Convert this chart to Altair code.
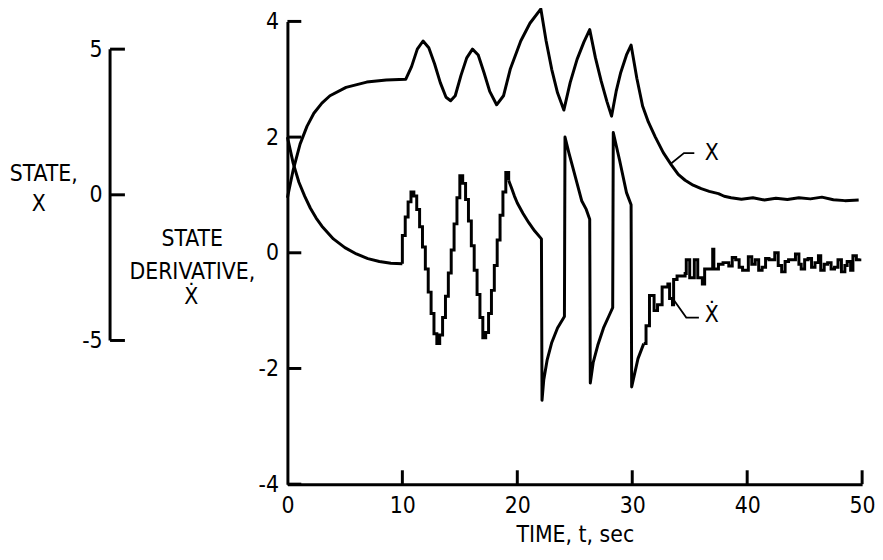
import altair as alt
import pandas as pd

FONT = "Liberation Sans Narrow, DejaVu Sans Condensed, sans-serif"
FS = 23

# ---------------- data ----------------
# State X (left axis units)
x_time = [0, 0.5, 1.1, 1.7, 2.3, 3.0, 3.7, 5.1, 6.9, 8.6, 10.3, 10.8, 11.3, 11.8, 12.3, 12.8,
          13.3, 13.8, 14.2, 14.6, 15.1, 15.6, 16.1, 16.6, 17.1, 17.6, 18.2, 18.8, 19.4, 20.3,
          21.1, 22.05, 22.5, 23.0, 23.5, 24.05, 24.6, 25.2, 25.8, 26.3, 26.8, 27.3, 27.8, 28.2,
          28.6, 29.0, 29.5, 29.9, 30.4, 30.9, 31.4, 32.0, 32.7, 33.4, 34.0, 34.6, 35.3, 36.0,
          36.7, 37.5, 38.0, 38.6, 39.5, 40.5, 41.5, 42.5, 43.5, 44.5, 45.5, 46.5, 47.5, 48.5, 49.7]
x_state = [-0.1, 0.85, 1.74, 2.35, 2.8, 3.15, 3.4, 3.69, 3.87, 3.94, 3.97, 4.4, 5.0, 5.28, 5.05, 4.5,
           3.85, 3.35, 3.23, 3.4, 4.1, 4.7, 5.0, 4.8, 4.2, 3.55, 3.09, 3.4, 4.33, 5.28,
           5.89, 6.38, 5.3, 4.3, 3.5, 2.91, 3.85, 4.65, 5.25, 5.67, 4.7, 3.9, 3.2, 2.7,
           3.55, 4.2, 4.8, 5.14, 4.0, 3.05, 2.5, 1.99, 1.45, 1.03, 0.7, 0.5, 0.33, 0.21,
           0.12, 0.04, -0.05, -0.1, -0.15, -0.1, -0.18, -0.12, -0.16, -0.1, -0.14, -0.08, -0.17, -0.2, -0.18]

# State derivative X-dot (main axis units): smooth parts
xd_decay_t = [0, 0.5, 1, 1.5, 2, 2.5, 3, 4, 5, 6, 7, 8, 9, 10.0]
xd_decay_v = [2.0, 1.55, 1.22, 0.98, 0.77, 0.6, 0.46, 0.24, 0.09, -0.02, -0.1, -0.15, -0.18, -0.19]

# sampled (staircase) oscillation
xd_stair_t = [10.0, 10.0, 10.25, 10.5, 10.75, 11.0, 11.25, 11.5, 11.75, 12.0, 12.25, 12.5, 12.75,
              13.0, 13.25, 13.5, 13.75, 14.0, 14.25, 14.5, 14.75, 15.0, 15.25, 15.5, 15.75,
              16.0, 16.25, 16.5, 16.75, 17.0, 17.25, 17.5, 17.75, 18.0, 18.25, 18.5, 18.75,
              19.0, 19.25]
xd_stair_v = [-0.19, 0.30, 0.62, 0.88, 1.05, 0.98, 0.75, 0.45, 0.10, -0.28, -0.68, -1.05, -1.40,
              -1.57, -1.42, -1.12, -0.75, -0.35, 0.05, 0.50, 0.95, 1.33, 1.20, 0.92, 0.55,
              0.12, -0.30, -0.72, -1.12, -1.47, -1.38, -1.05, -0.65, -0.22, 0.22, 0.65, 1.05,
              1.39, 1.25]

# switching section (vertical jumps)
xd_jump_t = [19.25, 19.5, 19.75, 20.0, 20.5, 21.0, 21.5, 22.1, 22.15, 22.3, 22.6, 23.0, 23.5,
             24.1, 24.15, 24.5, 24.8, 25.2, 25.6, 26.0, 26.3, 26.35, 26.6, 27.0, 27.5, 28.0,
             28.3, 28.35, 28.9, 29.5, 29.9, 29.95, 30.5, 31.0]
xd_jump_v = [1.25, 1.12, 0.98, 0.86, 0.68, 0.52, 0.38, 0.24, -2.55, -2.2, -1.85, -1.55, -1.3,
             -1.1, 2.0, 1.72, 1.5, 1.2, 0.9, 0.75, 0.58, -2.25, -1.9, -1.6, -1.3, -1.08,
             -0.95, 2.08, 1.6, 1.04, 0.83, -2.32, -1.83, -1.57]

# noisy settling
xd_noise_t = [31.0, 31.2, 31.5, 31.9, 32.2, 32.6, 33.1, 33.25, 33.5, 33.6, 33.9, 34.6, 34.7, 35.0,
              35.4, 35.7, 36.1, 36.3, 37.0, 37.1, 37.5, 37.9, 38.4, 38.7, 39.0, 39.3, 39.6, 40.1,
              40.4, 40.7, 41.0, 41.3, 41.6, 41.9, 42.4, 42.7, 43.0, 43.3, 43.6, 44.2, 44.5, 44.7,
              45.0, 45.3, 45.6, 45.9, 46.2, 46.4, 46.7, 47.0, 47.3, 47.6, 47.9, 48.2, 48.5, 48.7,
              49.0, 49.2, 49.5, 49.8]
xd_noise_v = [-1.57, -1.26, -0.74, -1.0, -0.9, -0.59, -0.54, -0.79, -0.9, -0.46, -0.4, -0.36, -0.12, -0.43,
              -0.12, -0.43, -0.54, -0.28, 0.06, -0.28, -0.2, -0.17, -0.23, -0.08, -0.12, -0.25, -0.3, -0.07,
              -0.2, -0.12, -0.3, -0.25, -0.1, -0.12, 0.0, -0.22, -0.33, -0.15, -0.12, -0.02, -0.2, -0.28,
              -0.12, -0.1, -0.25, -0.17, -0.05, -0.3, -0.2, -0.17, -0.28, -0.25, -0.12, -0.33, -0.22, -0.15,
              -0.3, -0.05, -0.12, -0.1]

time_ticks = [0, 10, 20, 30, 40, 50]
xdot_ticks = [-4, -2, 0, 2, 4]
state_ticks = [-5, 0, 5]

# leader lines for curve labels (data units)
x_leader_t = [33.3, 34.5, 35.4]
x_leader_s = [1.05, 1.43, 1.43]
xd_leader_t = [33.6, 34.7, 35.8]
xd_leader_v = [-0.81, -1.12, -1.12]

# ---------------- layout constants ----------------
W, H = 580, 467
LW = 3
XS = alt.Scale(domain=[0, 50], nice=False, zero=False)
YD = alt.Scale(domain=[-4, 4], nice=False, zero=False)
YS = alt.Scale(domain=[-9.932, 5.952], nice=False, zero=False)

x_axis = alt.Axis(values=time_ticks, ticks=False, tickSize=0, grid=False, domainColor="black",
                  domainWidth=LW, labelFont=FONT, labelFontSize=FS, labelColor="black",
                  labelPadding=11, labelFlush=False, labelExpr="datum.value",
                  title="TIME, t, sec", titleFont=FONT,
                  titleFontSize=FS, titleFontWeight="normal", titleColor="black", titlePadding=6)
yd_axis = alt.Axis(values=xdot_ticks, orient="left", ticks=False, tickSize=0, grid=False,
                   domainColor="black", domainWidth=LW, labelFont=FONT, labelFontSize=FS,
                   labelColor="black", labelPadding=9, labelFlush=False, labelExpr="datum.value",
                   title=None)
ys_axis = alt.Axis(values=state_ticks, orient="left", offset=179, domain=False, ticks=False,
                   tickSize=0, grid=False, labelFont=FONT, labelFontSize=FS, labelColor="black",
                   labelPadding=8, labelFlush=False, labelExpr="datum.value", title=None)


def X(field="t"):
    return alt.X(f"{field}:Q", scale=XS, axis=x_axis)


def YDot(field="v"):
    return alt.Y(f"{field}:Q", scale=YD, axis=yd_axis)


def YState(field="s"):
    return alt.Y(f"{field}:Q", scale=YS, axis=ys_axis)


# ---------------- derivative (main) group ----------------
smooth_rows = []
for i, (t, v) in enumerate(zip(xd_decay_t, xd_decay_v)):
    smooth_rows.append({"t": t, "v": v, "seg": "a", "i": i})
for i, (t, v) in enumerate(zip(xd_jump_t, xd_jump_v)):
    smooth_rows.append({"t": t, "v": v, "seg": "b", "i": i})
step_rows = []
for i, (t, v) in enumerate(zip(xd_stair_t, xd_stair_v)):
    step_rows.append({"t": t, "v": v, "seg": "s", "i": i})
for i, (t, v) in enumerate(zip(xd_noise_t, xd_noise_v)):
    step_rows.append({"t": t, "v": v, "seg": "n", "i": i})

xd_smooth = alt.Chart(pd.DataFrame(smooth_rows)).mark_line(
    color="black", strokeWidth=LW, strokeJoin="round").encode(
    x=X(), y=YDot(), detail="seg:N", order="i:Q")

xd_step = alt.Chart(pd.DataFrame(step_rows)).mark_line(
    color="black", strokeWidth=LW, interpolate="step-after").encode(
    x=X(), y=YDot(), detail="seg:N", order="i:Q")

yd_tick_marks = alt.Chart(pd.DataFrame({"v": xdot_ticks})).mark_rule(
    color="black", strokeWidth=LW).encode(
    x=alt.value(0), x2=alt.value(14), y=YDot())

t_tick_marks = alt.Chart(pd.DataFrame({"t": time_ticks[1:]})).mark_rule(
    color="black", strokeWidth=LW).encode(
    x=X(), y=alt.value(H), y2=alt.value(H - 14))

xd_leader = alt.Chart(pd.DataFrame({"t": xd_leader_t, "v": xd_leader_v, "i": [0, 1, 2]})).mark_line(
    color="black", strokeWidth=1.8).encode(x=X(), y=YDot(), order="i:Q")

xd_label = alt.Chart(pd.DataFrame({"t": [36.3], "v": [-1.12], "lab": ["\u1E8A"]})).mark_text(
    font=FONT, fontSize=FS, align="left", baseline="middle", dy=-3, color="black").encode(
    x=X(), y=YDot(), text="lab:N")

main_group = alt.layer(xd_smooth, xd_step, yd_tick_marks, t_tick_marks, xd_leader, xd_label)

# ---------------- state (left axis) group ----------------
x_line = alt.Chart(pd.DataFrame({"t": x_time, "s": x_state})).mark_line(
    color="black", strokeWidth=LW, strokeJoin="round").encode(x=X(), y=YState())

s_axis_line = alt.Chart(pd.DataFrame({"s": [max(state_ticks)], "b": [min(state_ticks)]})).mark_rule(
    color="black", strokeWidth=LW).encode(x=alt.value(-179), y=YState(), y2="b:Q")

s_tick_marks = alt.Chart(pd.DataFrame({"s": state_ticks})).mark_rule(
    color="black", strokeWidth=LW).encode(x=alt.value(-179), x2=alt.value(-164), y=YState())

x_leader = alt.Chart(pd.DataFrame({"t": x_leader_t, "s": x_leader_s, "i": [0, 1, 2]})).mark_line(
    color="black", strokeWidth=1.8).encode(x=X(), y=YState(), order="i:Q")

x_label = alt.Chart(pd.DataFrame({"t": [36.3], "s": [1.43], "lab": ["X"]})).mark_text(
    font=FONT, fontSize=FS, align="left", baseline="middle", color="black").encode(
    x=X(), y=YState(), text="lab:N")

one = alt.Data(values=[{"k": 1}])


def txt(s, px, py):
    return alt.Chart(one).mark_text(font=FONT, fontSize=FS, align="center", baseline="middle",
                                    color="black").encode(
        x=alt.value(px), y=alt.value(py), text=alt.value(s))


labels = [
    txt("STATE,", -246, 154),
    txt("X", -251, 184),
    txt("STATE", -96, 220),
    txt("DERIVATIVE,", -96, 253),
    txt("\u1E8A", -97, 278),
]

state_group = alt.layer(x_line, s_axis_line, s_tick_marks, x_leader, x_label, *labels)

chart = alt.layer(main_group, state_group).resolve_scale(y="independent").properties(
    width=W, height=H,
    autosize=alt.AutoSizeParams(type="none"),
    padding={"left": 282, "top": 11, "right": 13, "bottom": 74},
    background="white",
).configure_view(stroke=None)

chart.save("out.html", embed_options={"renderer": "svg", "actions": False})
